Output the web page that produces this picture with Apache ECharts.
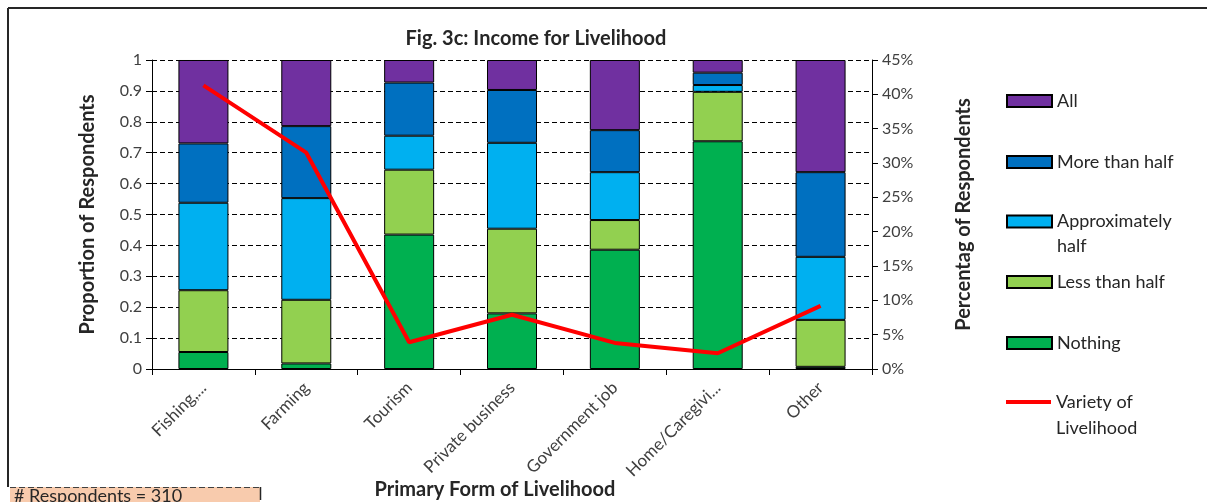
<!DOCTYPE html>
<html>
<head>
<meta charset="utf-8">
<style>
  html, body { margin: 0; padding: 0; background: #ffffff; }
  #chart { width: 1207px; height: 502px; }
</style>
<script src="https://cdn.jsdelivr.net/npm/echarts@6/dist/echarts.min.js"></script>
</head>
<body>
<div id="chart"></div>
<script>
// Primary livelihood categories
const categories = ['Fishing,...', 'Farming', 'Tourism', 'Private business', 'Government job', 'Home/Caregivi...', 'Other'];

// Share of income coming from the livelihood (proportions, stacked to 1)
const nothing       = [0.055, 0.018, 0.435, 0.180, 0.386, 0.737, 0.007];
const lessThanHalf  = [0.200, 0.206, 0.210, 0.274, 0.096, 0.160, 0.152];
const approxHalf    = [0.283, 0.329, 0.110, 0.278, 0.155, 0.022, 0.204];
const moreThanHalf  = [0.192, 0.233, 0.172, 0.171, 0.136, 0.040, 0.274];
const all           = [0.270, 0.214, 0.073, 0.097, 0.227, 0.041, 0.363];

// Percentage of respondents in each livelihood (right axis)
const variety = [41.3, 31.5, 3.9, 7.9, 3.8, 2.3, 9.2];

const leftTicks = { min: 0, max: 1, interval: 0.1 };
const rightTicks = { min: 0, max: 45, interval: 5 };

const FONT = 'Lato, "Open Sans", sans-serif';
const TEXT = '#262626';
const colors = {
  'All': '#7030A0',
  'More than half': '#0070C0',
  'Approximately half': '#00B0F0',
  'Less than half': '#92D050',
  'Nothing': '#00B050'
};

// Two-line legend labels; a blank leading line keeps the swatch beside the first line
const legendLabels = {
  'Approximately half': '\nApproximately\nhalf',
  'Variety of Livelihood': '\nVariety of\nLivelihood'
};

function barSeries(name, data) {
  return {
    name: name,
    type: 'bar',
    stack: 'income',
    barWidth: 50,
    data: data,
    itemStyle: { color: colors[name], borderColor: '#000', borderWidth: 1 }
  };
}

function legendBox(top, item, lineHeight, extra) {
  return Object.assign({
    orient: 'vertical',
    left: 1001,
    top: top,
    itemWidth: 45,
    itemHeight: 12,
    icon: 'rect',
    selectedMode: false,
    formatter: name => legendLabels[name] || name,
    textStyle: { fontFamily: FONT, fontSize: 18, color: TEXT, lineHeight: lineHeight },
    data: [item]
  }, extra || {});
}

const chart = echarts.init(document.getElementById('chart'), null, { renderer: 'canvas' });

chart.setOption({
  backgroundColor: '#ffffff',
  animation: false,
  title: {
    text: 'Fig. 3c: Income for Livelihood',
    left: 531,
    textAlign: 'center',
    top: 24,
    textStyle: { fontFamily: FONT, fontSize: 20, fontWeight: 'bold', color: TEXT }
  },
  grid: { left: 152, right: 335, top: 60, bottom: 133, outerBoundsMode: 'none' },
  legend: [
    legendBox(85, { name: 'All' }, 22),
    legendBox(146, { name: 'More than half' }, 22),
    legendBox(179, { name: 'Approximately half' }, 25),
    legendBox(266, { name: 'Less than half' }, 22),
    legendBox(327, { name: 'Nothing' }, 22),
    legendBox(358, { name: 'Variety of Livelihood', itemStyle: { color: '#FF0000', borderWidth: 0 } }, 26,
      { itemHeight: 4 })
  ],
  xAxis: {
    type: 'category',
    data: categories,
    boundaryGap: true,
    name: 'Primary Form of Livelihood',
    nameLocation: 'middle',
    nameGap: 111,
    nameMoveOverlap: false,
    nameTextStyle: { fontFamily: FONT, fontSize: 20, fontWeight: 'bold', color: TEXT, padding: [0, 34, 0, 0] },
    axisLine: { lineStyle: { color: '#000', width: 1 } },
    axisTick: { show: true, alignWithLabel: false, length: 6, lineStyle: { color: '#000' } },
    axisLabel: { rotate: 45, interval: 0, fontFamily: FONT, fontSize: 17, color: '#404040', margin: 16 }
  },
  yAxis: [
    {
      type: 'value',
      min: leftTicks.min, max: leftTicks.max, interval: leftTicks.interval,
      name: 'Proportion of Respondents',
      nameLocation: 'middle',
      nameGap: 54,
      nameMoveOverlap: false,
      nameTextStyle: { fontFamily: FONT, fontSize: 20, fontWeight: 'bold', color: TEXT },
      axisLine: { show: true, lineStyle: { color: '#000', width: 1 } },
      axisTick: { show: true, length: 6, lineStyle: { color: '#000' } },
      axisLabel: { fontFamily: FONT, fontSize: 16, color: '#404040', margin: 10,
        formatter: v => (Math.round(v * 10) / 10).toString() },
      splitLine: { show: true, lineStyle: { color: '#000', type: [5, 3], width: 1 } }
    },
    {
      type: 'value',
      position: 'right',
      min: rightTicks.min, max: rightTicks.max, interval: rightTicks.interval,
      name: 'Percentag of Respondents',
      nameLocation: 'middle',
      nameGap: 82,
      nameMoveOverlap: false,
      nameTextStyle: { fontFamily: FONT, fontSize: 20, fontWeight: 'bold', color: TEXT },
      axisLine: { show: true, lineStyle: { color: '#000', width: 1 } },
      axisTick: { show: true, length: 6, lineStyle: { color: '#000' } },
      axisLabel: { fontFamily: FONT, fontSize: 16, color: '#404040', margin: 10, formatter: '{value}%' },
      splitLine: { show: false }
    }
  ],
  series: [
    barSeries('Nothing', nothing),
    barSeries('Less than half', lessThanHalf),
    barSeries('Approximately half', approxHalf),
    barSeries('More than half', moreThanHalf),
    barSeries('All', all),
    {
      name: 'Variety of Livelihood',
      type: 'line',
      yAxisIndex: 1,
      data: variety,
      symbol: 'none',
      lineStyle: { color: '#FF0000', width: 4 },
      itemStyle: { color: '#FF0000' },
      z: 5
    }
  ],
  graphic: [
    // chart frame
    { type: 'line', shape: { x1: 8, y1: 8, x2: 1207, y2: 8 }, style: { stroke: TEXT, lineWidth: 2 } },
    { type: 'line', shape: { x1: 8, y1: 8, x2: 8, y2: 487 }, style: { stroke: TEXT, lineWidth: 2 } },
    // respondents note
    { type: 'rect', shape: { x: 10, y: 487, width: 250, height: 20 }, style: { fill: '#F8CBAD' } },
    { type: 'line', shape: { x1: 10, y1: 487.5, x2: 260, y2: 487.5 }, style: { stroke: '#404040', lineWidth: 1, lineDash: [6, 3] } },
    { type: 'line', shape: { x1: 260.5, y1: 487, x2: 260.5, y2: 500 }, style: { stroke: TEXT, lineWidth: 1.5 } },
    { type: 'text', x: 14, y: 496, style: { text: '# Respondents = 310', fontFamily: FONT, fontSize: 18, fill: TEXT, verticalAlign: 'middle' } }
  ]
});
</script>
</body>
</html>
